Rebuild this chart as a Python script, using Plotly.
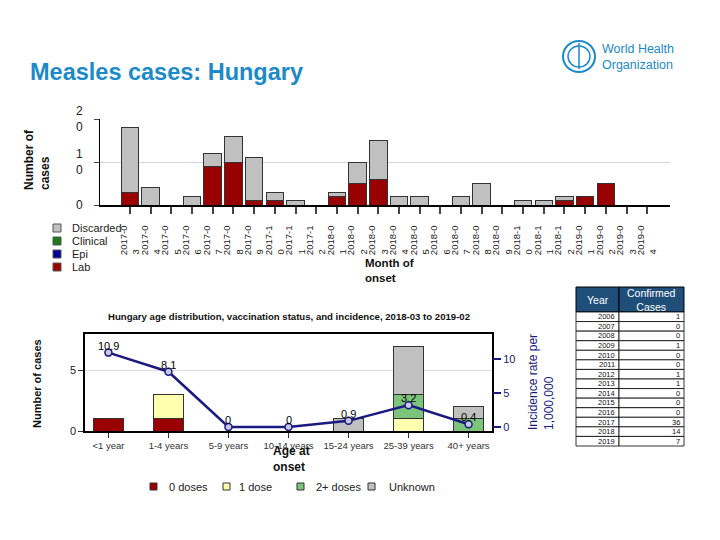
import plotly.graph_objects as go

# ---------------- data ----------------
months = ["2017-03", "2017-04", "2017-05", "2017-06", "2017-07", "2017-08", "2017-09",
          "2017-10", "2017-11", "2017-12", "2018-01", "2018-02", "2018-03", "2018-04",
          "2018-05", "2018-06", "2018-07", "2018-08", "2018-09", "2018-10", "2018-11",
          "2018-12", "2019-01", "2019-02", "2019-03", "2019-04"]
lab = [3, 0, 0, 0, 9, 10, 1, 1, 0, 0, 2, 5, 6, 0, 0, 0, 0, 0, 0, 0, 0, 1, 2, 5, 0, 0]
discarded = [15, 4, 0, 2, 3, 6, 10, 2, 1, 0, 1, 5, 9, 2, 2, 0, 2, 5, 0, 1, 1, 1, 0, 0, 0, 0]
# wrapped month labels; second line padded so both lines start at the same end
month_ticktext = [m[:6] + "<br>" + m[6:] + "\u00a0" * 9 for m in months]

age_groups = ["<1 year", "1-4 years", "5-9 years", "10-14 years", "15-24 years",
              "25-39 years", "40+ years"]
dose0 = [1, 1, 0, 0, 0, 0, 0]
dose1 = [0, 2, 0, 0, 0, 1, 0]
dose2 = [0, 0, 0, 0, 0, 2, 1]
unknown = [0, 0, 0, 0, 1, 4, 1]
incidence = [10.9, 8.1, 0, 0, 0.9, 3.2, 0.4]

years = [2006, 2007, 2008, 2009, 2010, 2011, 2012, 2013, 2014, 2015, 2016, 2017, 2018, 2019]
confirmed = [1, 0, 0, 1, 0, 0, 1, 1, 0, 0, 0, 36, 14, 7]

# ---------------- styling ----------------
W, H = 720, 540
FONT = "Liberation Sans, Arial, sans-serif"
RED = "#990000"
GRAY = "#C0C0C0"
YELLOW = "#FFFFB0"
GREEN = "#7CC47C"
NAVY = "#1A1A80"
OUT = "#333333"


def px(x):
    return x / W


def py(y):
    return 1 - y / H


fig = go.Figure()

# top chart
fig.add_trace(go.Bar(x=months, y=lab, marker=dict(color=RED, line=dict(color=OUT, width=1)),
                     width=0.85, xaxis="x", yaxis="y", showlegend=False))
fig.add_trace(go.Bar(x=months, y=discarded, marker=dict(color=GRAY, line=dict(color=OUT, width=1)),
                     width=0.85, xaxis="x", yaxis="y", showlegend=False))

# bottom chart
for vals, col in [(dose0, RED), (dose1, YELLOW), (dose2, GREEN), (unknown, GRAY)]:
    fig.add_trace(go.Bar(x=age_groups, y=vals, marker=dict(color=col, line=dict(color=OUT, width=1)),
                         width=0.5, xaxis="x2", yaxis="y2", showlegend=False))
fig.add_trace(go.Scatter(x=age_groups, y=incidence, mode="lines+markers",
                         line=dict(color=NAVY, width=2.5),
                         marker=dict(symbol="circle", size=7, color="#C8C8E0",
                                     line=dict(width=1.5, color=NAVY)),
                         xaxis="x2", yaxis="y3", showlegend=False, cliponaxis=False))

annotations = []
shapes = []

# incidence value labels, placed through the incidence axis
for ag, v in zip(age_groups, incidence):
    annotations.append(dict(x=ag, y=v, xref="x2", yref="y3", text=f"{v:g}", showarrow=False,
                            yshift=7, font=dict(size=11, color="black", family=FONT)))


def ann(x, y, text, size, color="#222", xanchor="center", yanchor="middle", **kw):
    annotations.append(dict(x=px(x), y=py(y), xref="paper", yref="paper", xanchor=xanchor,
                            yanchor=yanchor, text=text, showarrow=False,
                            font=dict(size=size, color=color, family=FONT), **kw))


def rect(x0, y0, x1, y1, fill, line="#333", lw=1):
    shapes.append(dict(type="rect", xref="paper", yref="paper", x0=px(x0), x1=px(x1),
                       y0=py(y1), y1=py(y0), fillcolor=fill, line=dict(color=line, width=lw)))


# title
ann(28, 72, "<b>Measles cases: Hungary</b>", 23.5, "#1B8AC9", xanchor="left")
# WHO logo
ann(600, 57, "World Health<br>Organization", 12.5, "#1B8AC9", xanchor="left", align="left")
shapes.append(dict(type="circle", xref="paper", yref="paper", x0=px(563), x1=px(595), y0=py(72), y1=py(41),
                   line=dict(color="#1B8AC9", width=2)))
shapes.append(dict(type="circle", xref="paper", yref="paper", x0=px(568), x1=px(590), y0=py(67), y1=py(46),
                   line=dict(color="#1B8AC9", width=1.5)))
shapes.append(dict(type="line", xref="paper", yref="paper", x0=px(579), x1=px(579), y0=py(69), y1=py(43),
                   line=dict(color="#1B8AC9", width=1.5)))

# top chart axis titles
ann(37, 160, "<b>Number of<br>cases</b>", 12, "#111", textangle=-90, align="left")
ann(363, 270, "<b>Month of<br>onset</b>", 11.5, "#111", xanchor="left", align="left")

# top legend
for i, (lbl, col) in enumerate([("Discarded", GRAY), ("Clinical", "#1A7A1A"), ("Epi", "#000099"), ("Lab", RED)]):
    yc = 228 + i * 13
    rect(53, yc - 4, 61, yc + 4, col, "#555")
    ann(70, yc, lbl, 11, "#222", xanchor="left")

# bottom chart title & axis titles
ann(289, 316, "<b>Hungary age distribution, vaccination status, and incidence, 2018-03 to 2019-02</b>",
    9.6, "#111")
ann(37, 384, "<b>Number of cases</b>", 11, "#111", textangle=-90)
ann(541, 382, "Incidence rate per<br>1,000,000", 12, NAVY, textangle=-90, align="left")
ann(271, 459, "<b>Age at<br>onset</b>", 12, "#111", xanchor="left", align="left")

# bottom legend
for lbl, col, xs, xt in [("0 doses", RED, 150, 167), ("1 dose", YELLOW, 223, 237),
                         ("2+ doses", GREEN, 297, 314), ("Unknown", GRAY, 368, 387)]:
    rect(xs, 483, xs + 7, 490, col, "#333")
    ann(xt, 486.5, lbl, 11, "#222", xanchor="left")

# table of confirmed cases by year
TX0, TX1, TX2 = 576, 619, 684
TY0, TY1 = 287, 312
ROWH = (446 - TY1) / len(years)
rect(TX0, TY0, TX1, TY1, "#1F4E79", "#000", 1)
rect(TX1, TY0, TX2, TY1, "#1F4E79", "#000", 1)
ann((TX0 + TX1) / 2, (TY0 + TY1) / 2, "Year", 10.5, "white")
ann((TX1 + TX2) / 2, (TY0 + TY1) / 2, "Confirmed<br>Cases", 10.5, "white")
for i, (yr, cc) in enumerate(zip(years, confirmed)):
    y0 = TY1 + i * ROWH
    rect(TX0, y0, TX1, y0 + ROWH, "white", "#000", 0.8)
    rect(TX1, y0, TX2, y0 + ROWH, "white", "#000", 0.8)
    ann(TX1 - 2, y0 + ROWH / 2, str(yr), 7.5, "#111", xanchor="right")
    ann(TX2 - 2, y0 + ROWH / 2, str(cc), 7.5, "#111", xanchor="right")

fig.update_layout(
    width=W, height=H, margin=dict(l=0, r=0, t=0, b=0, pad=0),
    paper_bgcolor="white", plot_bgcolor="white",
    barmode="stack", showlegend=False,
    font=dict(family=FONT, color="#222"),
    xaxis=dict(type="category", domain=[px(100), px(670)], range=[-1.45, 26.1], tickmode="array",
               tickvals=months, ticktext=month_ticktext, tickangle=-90, automargin=False,
               tickfont=dict(size=9.5, color="#222"), ticks="outside", ticklen=7, tickwidth=1.5,
               tickcolor="#444", showline=True, linecolor="black", linewidth=1.5,
               ticklabelstandoff=8,
               showgrid=False, anchor="y", fixedrange=True),
    yaxis=dict(domain=[py(205), py(119)], range=[0, 20], tickvals=[0, 10, 20], automargin=False,
               ticktext=["0", "1<br>0", "2<br>0"], tickfont=dict(size=12, color="#222"),
               ticks="outside", ticklen=5, tickcolor="#444", showline=True, linecolor="black",
               ticklabelstandoff=9,
               linewidth=1, showgrid=True, gridcolor="#D4D4D4", zeroline=False, anchor="x"),
    xaxis2=dict(type="category", domain=[px(85), px(492)], range=[-0.39, 6.39], automargin=False,
                tickfont=dict(size=9.5, color="#333"),
                ticks="outside", ticklen=5, tickcolor="#333", showline=True, mirror=True,
                linecolor="black", linewidth=1.5, showgrid=False, anchor="y2"),
    yaxis2=dict(domain=[py(431), py(334)], range=[0, 8], tickvals=[0, 5], automargin=False,
                tickfont=dict(size=11, color="#222"), ticks="outside", ticklen=5, tickcolor="#333",
                showline=True, mirror=True, linecolor="black", linewidth=1.5, showgrid=True,
                gridcolor="#DDDDDD", zeroline=False, anchor="x2"),
    yaxis3=dict(overlaying="y2", side="right", range=[-0.59, 13.63], tickvals=[0, 5, 10],
                automargin=False, tickfont=dict(size=11, color=NAVY), ticks="outside", ticklen=8,
                tickwidth=2, tickcolor=NAVY, showline=False, showgrid=False, zeroline=False,
                anchor="x2"),
    annotations=annotations, shapes=shapes,
)

fig.write_html("out.html")
